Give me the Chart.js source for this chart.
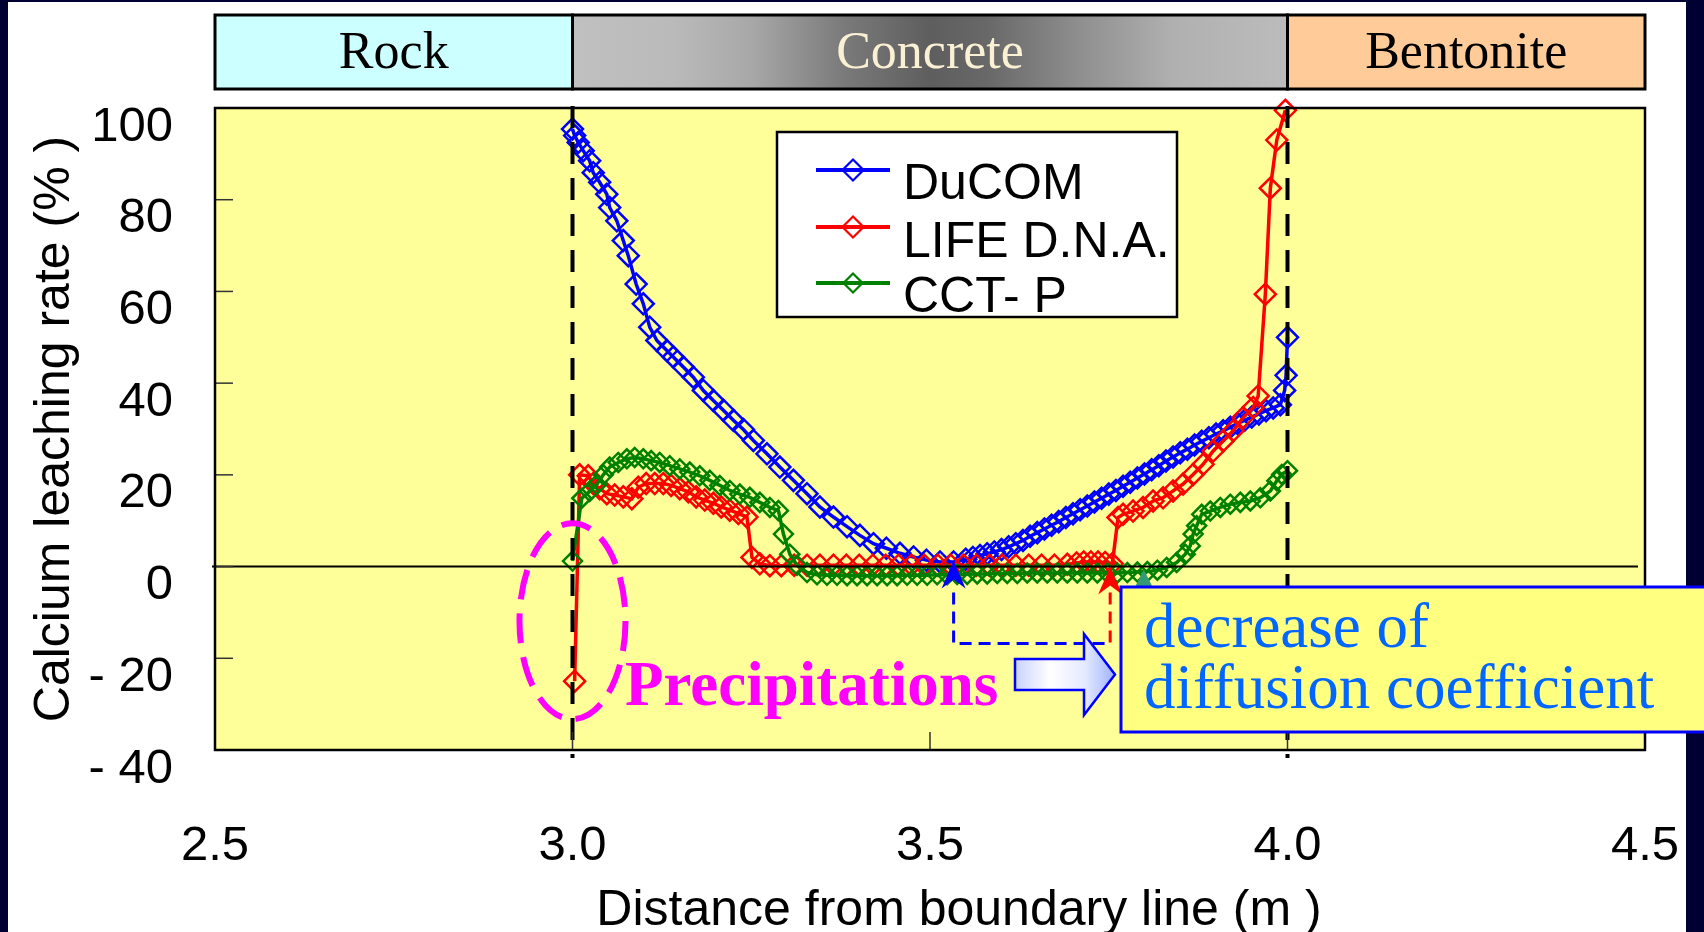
<!DOCTYPE html>
<html>
<head>
<meta charset="utf-8">
<title>Calcium leaching rate</title>
<script src="https://cdn.jsdelivr.net/npm/chart.js@4.4.1/dist/chart.umd.min.js"></script>
<style>
  html, body { margin: 0; padding: 0; background: #ffffff; }
  #wrap { width: 1704px; height: 932px; }
</style>
</head>
<body>
<div id="wrap"><canvas id="leachChart" width="1704" height="932"></canvas></div>
<script>
// Calcium leaching rate vs distance - three codes compared

// DuCOM
const ducomX = [3.000, 3.003, 3.008, 3.015, 3.024, 3.029, 3.038, 3.048, 3.052, 3.062,
    3.071, 3.078, 3.089, 3.099, 3.108, 3.118, 3.132, 3.141, 3.155, 3.169,
    3.183, 3.197, 3.211, 3.225, 3.239, 3.253, 3.272, 3.290, 3.309, 3.328,
    3.346, 3.365, 3.384, 3.402, 3.421, 3.439, 3.458, 3.477, 3.495, 3.514,
    3.533, 3.55, 3.56, 3.57, 3.58, 3.59, 3.60, 3.61, 3.62, 3.63,
    3.64, 3.65, 3.66, 3.67, 3.68, 3.69, 3.70, 3.71, 3.72, 3.73,
    3.74, 3.75, 3.76, 3.77, 3.78, 3.79, 3.80, 3.81, 3.82, 3.83,
    3.84, 3.85, 3.86, 3.87, 3.88, 3.89, 3.90, 3.91, 3.92, 3.93,
    3.94, 3.95, 3.96, 3.97, 3.98, 3.99, 3.996, 3.998, 4.000];
const ducomY = [95.4, 94.0, 92.5, 90.7, 88.5, 85.9, 83.8, 81.2, 78.3, 75.4,
    71.1, 67.8, 61.6, 57.3, 52.2, 49.3, 47.1, 45.7, 43.5, 41.3,
    38.4, 36.2, 34.1, 31.9, 29.9, 27.5, 24.6, 21.7, 18.8, 15.9,
    13.0, 10.8, 8.7, 6.8, 5.0, 4.0, 2.9, 2.1, 1.4, 1.0,
    1.0, 1.6, 2.0, 2.4, 2.8, 3.2, 3.7, 4.3, 5.0, 5.7,
    6.6, 7.4, 8.2, 9.0, 9.8, 10.7, 11.5, 12.4, 13.2, 14.1,
    14.9, 15.8, 16.6, 17.5, 18.4, 19.3, 20.2, 21.1, 22.0, 23.0,
    23.9, 24.8, 25.6, 26.5, 27.3, 28.1, 28.9, 29.6, 30.4, 31.2,
    31.9, 32.6, 33.3, 34.0, 34.6, 35.3, 38.4, 41.7, 50.0];

// LIFE D.N.A.
const lifeX = [3.003, 3.010, 3.022, 3.029, 3.038, 3.048, 3.059, 3.071, 3.083, 3.092,
    3.103, 3.115, 3.127, 3.138, 3.150, 3.162, 3.173, 3.185, 3.197, 3.208,
    3.220, 3.232, 3.244, 3.251, 3.262, 3.276, 3.292, 3.310, 3.328, 3.346,
    3.365, 3.383, 3.401, 3.420, 3.438, 3.456, 3.474, 3.492, 3.511, 3.529,
    3.547, 3.565, 3.583, 3.601, 3.620, 3.638, 3.656, 3.674, 3.692, 3.705,
    3.715, 3.725, 3.735, 3.745, 3.755, 3.763, 3.770, 3.784, 3.798, 3.812,
    3.826, 3.840, 3.854, 3.868, 3.882, 3.896, 3.910, 3.924, 3.938, 3.952,
    3.959, 3.969, 3.976, 3.985, 3.997];
const lifeY = [-25.0, 20.0, 19.8, 18.1, 17.0, 15.9, 15.6, 15.2, 14.8, 17.3,
    18.1, 18.1, 18.1, 17.7, 17.0, 16.3, 15.2, 14.5, 13.8, 13.0,
    12.3, 11.6, 10.8, 2.0, 0.6, 0.2, 0.2, 0.3, 0.3, 0.3,
    0.3, 0.3, 0.3, 0.3, 0.3, 0.3, 0.3, 0.3, 0.3, 0.3,
    0.3, 0.3, 0.3, 0.3, 0.3, 0.3, 0.3, 0.3, 0.5, 0.8,
    1.0, 1.0, 1.0, 0.9, 0.6, 10.7, 11.4, 12.1, 12.9, 14.3,
    15.0, 16.5, 18.0, 20.1, 22.3, 25.2, 27.4, 29.6, 32.5, 34.7,
    37.2, 59.4, 82.5, 93.0, 99.5];

// CCT-P
const cctX = [3.000, 3.013, 3.024, 3.034, 3.043, 3.052, 3.064, 3.076, 3.087, 3.099,
    3.110, 3.122, 3.136, 3.150, 3.164, 3.178, 3.192, 3.206, 3.220, 3.234,
    3.248, 3.262, 3.276, 3.288, 3.295, 3.304, 3.314, 3.328, 3.342, 3.356,
    3.370, 3.384, 3.398, 3.412, 3.426, 3.440, 3.454, 3.468, 3.482, 3.496,
    3.510, 3.524, 3.538, 3.552, 3.566, 3.580, 3.594, 3.608, 3.622, 3.636,
    3.650, 3.664, 3.678, 3.692, 3.706, 3.720, 3.734, 3.748, 3.762, 3.776,
    3.790, 3.804, 3.818, 3.831, 3.845, 3.857, 3.864, 3.868, 3.873, 3.880,
    3.892, 3.906, 3.920, 3.934, 3.948, 3.962, 3.976, 3.985, 3.992, 4.000];
const cctY = [1.2, 14.9, 16.4, 17.9, 20.0, 21.7, 22.7, 23.5, 23.8, 23.5,
    23.1, 22.7, 22.0, 21.3, 20.6, 19.8, 18.8, 17.7, 16.6, 15.8,
    15.1, 14.0, 12.9, 12.2, 7.1, 2.7, 0.3, -1.3, -1.8, -1.9,
    -1.9, -2.0, -2.0, -2.0, -2.0, -2.0, -2.0, -1.9, -1.9, -1.9,
    -1.8, -1.8, -1.7, -1.7, -1.6, -1.6, -1.5, -1.5, -1.5, -1.4,
    -1.4, -1.4, -1.4, -1.4, -1.4, -1.4, -1.4, -1.4, -1.4, -1.3,
    -1.2, -1.1, -0.8, -0.2, 0.9, 2.7, 4.5, 7.1, 8.9, 11.4,
    12.1, 12.9, 13.6, 14.0, 14.3, 15.0, 16.5, 18.7, 20.1, 20.9];

// material zones along the x axis
const zoneNames = ['Rock', 'Concrete', 'Bentonite'];
const zoneEdges = [2.5, 3.0, 4.0, 4.5];

// where the arrows under the curves point to (m)
const markBlue = 3.533;
const markRed = 3.752;
const markTeal = 3.799;

const SANS = "'Liberation Sans', Arial, sans-serif";
const SERIF = "'Liberation Serif', 'Times New Roman', serif";

function toPoints(xs, ys) {
    return xs.map((x, i) => ({ x: x, y: ys[i] }));
}

function diamondPath(ctx, x, y, r) {
    ctx.beginPath();
    ctx.moveTo(x, y - r);
    ctx.lineTo(x + r, y);
    ctx.lineTo(x, y + r);
    ctx.lineTo(x - r, y);
    ctx.closePath();
}

function upArrow(ctx, x, tipY, color, notch, half) {
    ctx.fillStyle = color;
    ctx.beginPath();
    ctx.moveTo(x, tipY);
    ctx.lineTo(x + half, tipY + 28);
    ctx.lineTo(x, tipY + 28 - notch);
    ctx.lineTo(x - half, tipY + 28);
    ctx.closePath();
    ctx.fill();
}

const overlay = {
    id: 'overlay',
    beforeDraw(chart) {
        const { ctx, chartArea: a, width, height } = chart;
        const xs = chart.scales.x;
        ctx.save();
        ctx.fillStyle = '#ffffff';
        ctx.fillRect(0, 0, width, height);
        // dark slide frame
        ctx.fillStyle = '#000033';
        ctx.fillRect(0, 0, 8, height);
        ctx.fillRect(0, 0, width, 2);
        ctx.fillRect(1686, 0, width - 1686, height);

        // plot background
        ctx.fillStyle = '#ffff99';
        ctx.fillRect(a.left, a.top, a.right - a.left, a.bottom - a.top);

        // zone banner
        const bTop = 15, bBot = 89;
        zoneNames.forEach((name, i) => {
            const x0 = xs.getPixelForValue(zoneEdges[i]);
            const x1 = xs.getPixelForValue(zoneEdges[i + 1]);
            let fill, txt;
            if (name === 'Rock') {
                fill = '#ccffff'; txt = '#000000';
            } else if (name === 'Bentonite') {
                fill = '#ffcc99'; txt = '#000000';
            } else {
                fill = ctx.createLinearGradient(x0, 0, x1, 0);
                fill.addColorStop(0, '#c0c0c0');
                fill.addColorStop(0.14, '#bababa');
                fill.addColorStop(0.25, '#a8a8a8');
                fill.addColorStop(0.38, '#7a7a7a');
                fill.addColorStop(0.5, '#5e5e5e');
                fill.addColorStop(0.58, '#686868');
                fill.addColorStop(0.71, '#8f8f8f');
                fill.addColorStop(0.84, '#b0b0b0');
                fill.addColorStop(1, '#bcbcbc');
                txt = '#faf0d4';
            }
            ctx.fillStyle = fill;
            ctx.fillRect(x0, bTop, x1 - x0, bBot - bTop);
            ctx.strokeStyle = '#000000';
            ctx.lineWidth = 3;
            ctx.strokeRect(x0, bTop, x1 - x0, bBot - bTop);
            ctx.fillStyle = txt;
            ctx.font = '52px ' + SERIF;
            ctx.textAlign = 'center';
            ctx.textBaseline = 'alphabetic';
            ctx.fillText(name, (x0 + x1) / 2, 68);
        });

        // x axis title (sits a little right of the plot centre)
        ctx.fillStyle = '#000000';
        ctx.font = '50px ' + SANS;
        ctx.fillText('Distance from boundary line (m )', (a.left + a.right) / 2 + 29, 925);
        ctx.restore();
    },
    afterDatasetsDraw(chart) {
        const { ctx, chartArea: a } = chart;
        const xs = chart.scales.x;
        const ys = chart.scales.y;
        const y0 = ys.getPixelForValue(0);
        ctx.save();

        // zero line
        ctx.strokeStyle = '#000000';
        ctx.lineWidth = 2;
        ctx.beginPath();
        ctx.moveTo(a.left - 3, y0);
        ctx.lineTo(a.right - 7, y0);
        ctx.stroke();

        // zone boundaries
        ctx.lineWidth = 4;
        ctx.setLineDash([22, 14]);
        [zoneEdges[1], zoneEdges[2]].forEach(v => {
            const px = xs.getPixelForValue(v);
            ctx.beginPath();
            ctx.moveTo(px, a.top - 2);
            ctx.lineTo(px, a.bottom + 8);
            ctx.stroke();
        });
        ctx.setLineDash([]);

        // inner tick marks
        ctx.strokeStyle = '#333333';
        ctx.lineWidth = 1.5;
        ys.ticks.forEach(t => {
            const py = ys.getPixelForValue(t.value);
            ctx.beginPath();
            ctx.moveTo(a.left, py);
            ctx.lineTo(a.left + 18, py);
            ctx.stroke();
        });
        xs.ticks.forEach(t => {
            const px = xs.getPixelForValue(t.value);
            ctx.beginPath();
            ctx.moveTo(px, a.bottom);
            ctx.lineTo(px, a.bottom - 18);
            ctx.stroke();
        });

        // plot frame
        ctx.strokeStyle = '#000000';
        ctx.lineWidth = 2.5;
        ctx.strokeRect(a.left, a.top, a.right - a.left, a.bottom - a.top);

        // precipitation ellipse around the rock / concrete interface
        ctx.strokeStyle = '#ff00ff';
        ctx.lineWidth = 6;
        ctx.setLineDash([30, 14]);
        ctx.beginPath();
        ctx.ellipse(xs.getPixelForValue(3.0), ys.getPixelForValue(-11.9), 53, 98, 0, 0, Math.PI * 2);
        ctx.stroke();
        ctx.setLineDash([]);

        ctx.fillStyle = '#ff00ff';
        ctx.font = 'bold 63px ' + SERIF;
        ctx.textAlign = 'left';
        ctx.textBaseline = 'alphabetic';
        ctx.fillText('Precipitations', 625, 705);

        // arrows to where leaching stops
        const bx = xs.getPixelForValue(markBlue);
        const rx = xs.getPixelForValue(markRed);
        const tx = xs.getPixelForValue(markTeal);
        const base = y0 + 26;
        const low = y0 + 77;
        ctx.lineWidth = 3;
        ctx.setLineDash([12, 7]);
        ctx.strokeStyle = '#0000ff';
        ctx.beginPath();
        ctx.moveTo(bx, base);
        ctx.lineTo(bx, low);
        ctx.lineTo(rx - 4, low);
        ctx.stroke();
        ctx.strokeStyle = '#ff0000';
        ctx.beginPath();
        ctx.moveTo(rx, base);
        ctx.lineTo(rx, low);
        ctx.stroke();
        ctx.setLineDash([]);
        upArrow(ctx, bx, y0 - 6, '#0000ff', 9, 12);
        upArrow(ctx, rx, y0, '#ff0000', 9, 12);
        upArrow(ctx, tx, y0 + 3, '#339977', 0, 14);

        // block arrow
        const g = ctx.createLinearGradient(1015, 0, 1115, 0);
        g.addColorStop(0, '#c8d2ff');
        g.addColorStop(0.35, '#ffffff');
        g.addColorStop(0.7, '#e4eaff');
        g.addColorStop(1, '#9fb2ff');
        ctx.fillStyle = g;
        ctx.strokeStyle = '#0000ff';
        ctx.lineWidth = 2.5;
        ctx.beginPath();
        ctx.moveTo(1015, 659);
        ctx.lineTo(1084, 659);
        ctx.lineTo(1084, 634);
        ctx.lineTo(1115, 674.5);
        ctx.lineTo(1084, 715);
        ctx.lineTo(1084, 690);
        ctx.lineTo(1015, 690);
        ctx.closePath();
        ctx.fill();
        ctx.stroke();

        // explanation box
        ctx.fillStyle = '#ffff80';
        ctx.fillRect(1121, 587, 600, 145);
        ctx.strokeStyle = '#0000ff';
        ctx.lineWidth = 3;
        ctx.strokeRect(1121, 587, 600, 145);
        ctx.fillStyle = '#0066ff';
        ctx.font = '63px ' + SERIF;
        ctx.fillText('decrease of', 1144, 647);
        ctx.fillText('diffusion coefficient', 1144, 708);

        // legend
        ctx.fillStyle = '#ffffff';
        ctx.fillRect(777, 132, 400, 185);
        ctx.strokeStyle = '#000000';
        ctx.lineWidth = 2.5;
        ctx.strokeRect(777, 132, 400, 185);
        const rows = [170, 227, 283];
        const bases = [199, 257, 312];
        chart.data.datasets.forEach((ds, i) => {
            ctx.strokeStyle = ds.borderColor;
            ctx.lineWidth = 4;
            ctx.beginPath();
            ctx.moveTo(816, rows[i]);
            ctx.lineTo(890, rows[i]);
            ctx.stroke();
            ctx.lineWidth = 2.2;
            diamondPath(ctx, 853, rows[i], ds.pointRadius);
            ctx.stroke();
            ctx.fillStyle = '#000000';
            ctx.font = '50px ' + SANS;
            ctx.fillText(ds.label, 903, bases[i]);
        });
        ctx.restore();
    }
};

function seriesStyle(color, radius) {
    return {
        borderColor: color,
        borderWidth: 3.5,
        pointStyle: 'rectRot',
        pointRadius: radius,
        pointBorderWidth: 2.5,
        pointBorderColor: color,
        pointBackgroundColor: 'rgba(0,0,0,0)',
        tension: 0,
        fill: false,
        clip: false
    };
}

const leachChart = new Chart(document.getElementById('leachChart'), {
    type: 'line',
    data: {
        datasets: [
            Object.assign({ label: 'DuCOM', data: toPoints(ducomX, ducomY), order: 3 }, seriesStyle('#0000ff', 10.5)),
            Object.assign({ label: 'LIFE D.N.A.', data: toPoints(lifeX, lifeY), order: 2 }, seriesStyle('#ff0000', 10.5)),
            Object.assign({ label: 'CCT- P', data: toPoints(cctX, cctY), order: 1 }, seriesStyle('#008000', 9.5))
        ]
    },
    options: {
        responsive: false,
        devicePixelRatio: 1,
        animation: false,
        events: [],
        layout: {
            padding: { left: 0, top: 108, right: 59, bottom: 0 }
        },
        plugins: {
            legend: { display: false },
            tooltip: { enabled: false }
        },
        scales: {
            x: {
                type: 'linear',
                min: 2.5,
                max: 4.5,
                afterFit: function(scale) { scale.height = 182; },
                // tick marks are drawn inside the plot by the overlay; tickLength only spaces the labels
                grid: { display: false, drawTicks: true, tickLength: 47 },
                border: { display: false },
                ticks: {
                    stepSize: 0.5,
                    padding: 20,
                    color: '#000000',
                    font: { family: SANS, size: 49 },
                    callback: function(v) { return Number(v).toFixed(1); }
                }
            },
            y: {
                type: 'linear',
                min: -40,
                max: 100,
                afterFit: function(scale) { scale.width = 215; },
                grid: { display: false, drawTicks: false },
                border: { display: false },
                ticks: {
                    stepSize: 20,
                    padding: 42,
                    labelOffset: 19,
                    color: '#000000',
                    font: { family: SANS, size: 49 },
                    callback: function(v) { return v < 0 ? '- ' + Math.abs(v) : String(v); }
                },
                title: {
                    display: true,
                    text: 'Calcium leaching rate (% )',
                    color: '#000000',
                    font: { family: SANS, size: 50 },
                    padding: { top: 25, bottom: 0 }
                }
            }
        }
    },
    plugins: [overlay]
});
</script>
</body>
</html>
